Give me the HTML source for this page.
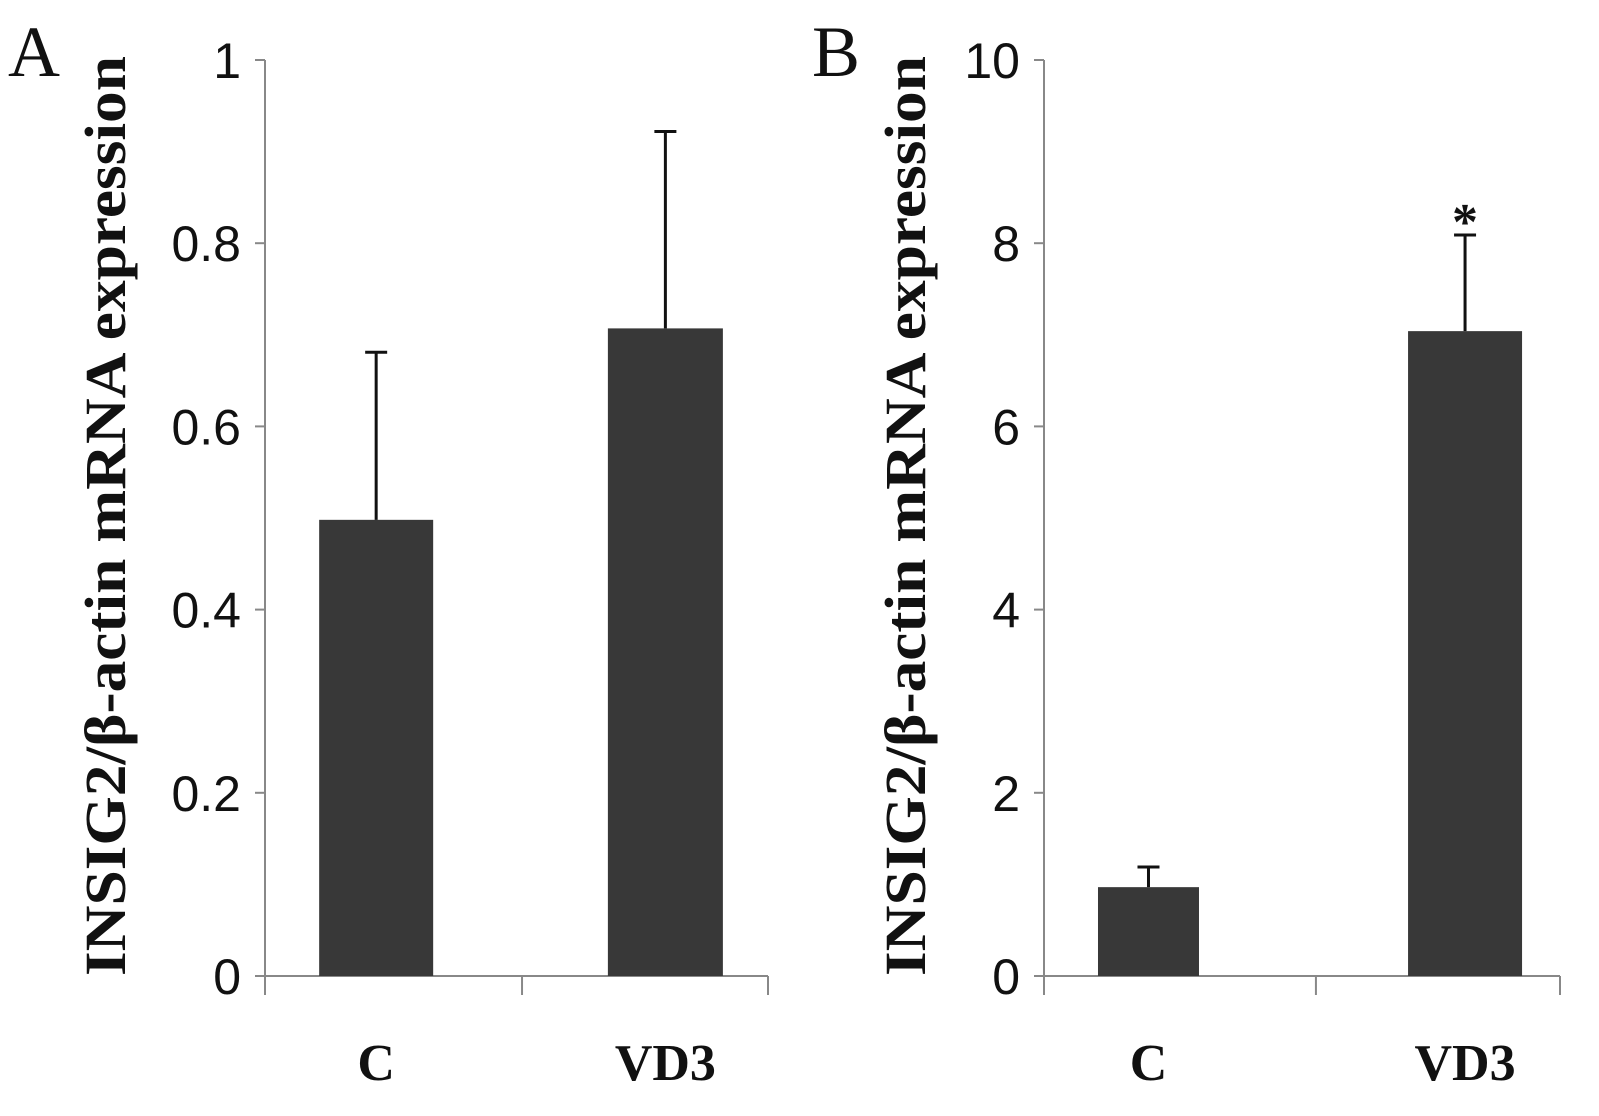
<!DOCTYPE html>
<html><head><meta charset="utf-8"><style>
body{margin:0;background:#fff;}
svg{display:block;}
.tick{font-family:"Liberation Sans","Noto Sans CJK KR",sans-serif;font-size:50px;fill:#111;}
.cat{font-family:"Liberation Serif",serif;font-weight:bold;font-size:52px;fill:#111;}
.yt{font-family:"Liberation Serif",serif;font-weight:bold;font-size:58px;fill:#111;}
.pl{font-family:"Liberation Serif",serif;font-size:72px;fill:#111;}
</style></head><body>
<svg id="chart" width="1599" height="1116" viewBox="0 0 1599 1116"></svg>
<script>
const categories=["C","VD3"];
const valuesA=[0.498,0.707];
const errorsA=[0.183,0.215];
const ticksA=["0","0.2","0.4","0.6","0.8","1"];
const valuesB=[0.97,7.04];
const errorsB=[0.22,1.05];
const ticksB=["0","2","4","6","8","10"];
const sigB=["","*"];
const NS="http://www.w3.org/2000/svg";
const svg=document.getElementById('chart');
function mk(t,a,p){const e=document.createElementNS(NS,t);for(const k in a)e.setAttribute(k,a[k]);(p||svg).appendChild(e);return e;}
function panel(cfg){
  const g=mk('g',{});
  
  
  const y0=976,y1=60,x0=cfg.x0,x1=cfg.x1,W=x1-x0;
  const ys=v=>y0-(v/cfg.max)*(y0-y1);
  const ax=mk('line',{x1:x0,y1:y0,x2:x0,y2:y1,stroke:'#888','stroke-width':2},g);
  
  const xa=mk('line',{x1:x0,y1:y0,x2:x1,y2:y0,stroke:'#888','stroke-width':2},g);
  
  cfg.ticks.forEach((t,i)=>{
    const v=parseFloat(t),y=ys(v);
    mk('line',{x1:x0-10,y1:y,x2:x0,y2:y,stroke:'#888','stroke-width':2},g);
    const tx=mk('text',{x:x0-24,y:y+18,'text-anchor':'end',class:'tick'},g);
    tx.textContent=t;
    
  });
  [x0,x0+cfg.mid*W,x1].forEach(x=>mk('line',{x1:x,y1:y0,x2:x,y2:y0+19,stroke:'#888','stroke-width':2},g));
  categories.forEach((c,i)=>{
    const cx=x0+cfg.pos[i]*W,w=cfg.bw[i];
    const v=cfg.vals[i],e=cfg.errs[i];
    const b=mk('rect',{x:cx-w/2,y:ys(v),width:w,height:y0-ys(v),fill:'#383838'},g);
    
    const ey=ys(v+e);
    const el=mk('path',{d:`M${cx},${ys(v)}V${ey}M${cx-11},${ey}H${cx+11}`,stroke:'#111','stroke-width':3,fill:'none'},g);
    
    if(cfg.sig&&cfg.sig[i]){const s=mk('text',{x:cx,y:ey+4,'text-anchor':'middle',class:'cat'},g);s.textContent=cfg.sig[i];
      }
    const lt=mk('text',{x:cx,y:1080,'text-anchor':'middle',class:'cat'},g);lt.textContent=c;
    
  });
  const yt=mk('text',{x:0,y:0,transform:`translate(${cfg.tx},516) rotate(-90)`,'text-anchor':'middle',class:'yt',textLength:920,lengthAdjust:'spacingAndGlyphs'},g);
  yt.textContent='INSIG2/β-actin mRNA expression';
  
  const pl=mk('text',{x:cfg.lx,y:76,class:'pl'},g);pl.textContent=cfg.label;
  
}
panel({name:'panel-a',x0:265,x1:768,mid:0.511,pos:[0.221,0.796],bw:[114,115],max:1,vals:valuesA,errs:errorsA,ticks:ticksA,tx:125,lx:8,label:'A'});
panel({name:'panel-b',x0:1044,x1:1560,mid:0.527,pos:[0.2025,0.816],bw:[101,114],max:10,vals:valuesB,errs:errorsB,ticks:ticksB,sig:sigB,tx:925,lx:812,label:'B'});
</script>
</body></html>
